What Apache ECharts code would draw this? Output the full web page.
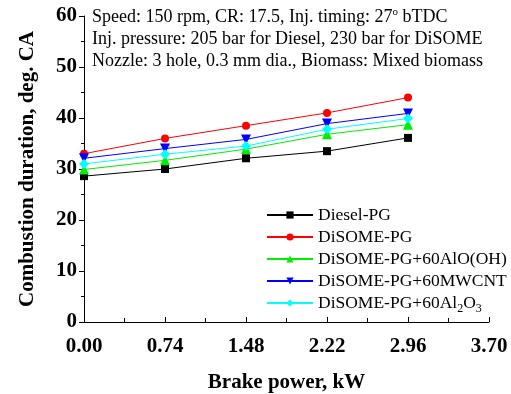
<!DOCTYPE html>
<html>
<head>
<meta charset="utf-8">
<script src="https://cdn.jsdelivr.net/npm/echarts@6/dist/echarts.min.js"></script>
<style>
  html, body { margin: 0; padding: 0; background: #fff; }
  #chart { width: 511px; height: 394px; }
</style>
</head>
<body>
<div id="chart"></div>
<script>
const brakePower = [0, 0.74, 1.48, 2.22, 2.96];
const dieselPG = [28.6, 30.0, 32.1, 33.5, 36.1];
const disomePG = [33.0, 36.0, 38.5, 41.0, 44.0];
const disomeAlOOH = [29.9, 31.7, 33.9, 36.8, 38.7];
const disomeMWCNT = [32.1, 34.0, 35.8, 38.9, 40.9];
const disomeAl2O3 = [31.0, 32.9, 34.5, 37.8, 39.9];
const seriesNames = ['Diesel-PG', 'DiSOME-PG', 'DiSOME-PG+60AlO(OH)', 'DiSOME-PG+60MWCNT', 'DiSOME-PG+60Al2O3'];

const font = '"Liberation Serif", "Times New Roman", serif';

const pairs = (ys) => brakePower.map((x, i) => [x, ys[i]]);

const makeSeries = (name, data, color, symbol, size, rotate) => ({
  name: name,
  type: 'line',
  data: pairs(data),
  symbol: symbol,
  symbolSize: size,
  symbolRotate: rotate || 0,
  lineStyle: { color: color, width: 1 },
  itemStyle: { color: color },
  animation: false
});

const getOption = () => {
  return {
    backgroundColor: '#fff',
    grid: { left: 84, right: 22, top: 16, bottom: 72, outerBoundsMode: 'none', containLabel: false },
    legend: {
      orient: 'vertical',
      left: 261,
      top: 201,
      itemWidth: 46,
      itemHeight: 9,
      itemGap: 4,
      data: seriesNames,
      textStyle: {
        fontFamily: font, fontSize: 17.5, color: '#000',
        rich: {
          n: { fontFamily: font, fontSize: 17.5, color: '#000' },
          sub: { fontFamily: font, fontSize: 12, color: '#000', padding: [11, 0, 0, 0] }
        }
      },
      formatter: (name) => name === 'DiSOME-PG+60Al2O3'
        ? '{n|DiSOME-PG+60Al}{sub|2}{n|O}{sub|3}'
        : name
    },
    graphic: [
      {
        type: 'text',
        left: 92,
        top: 7,
        style: {
          text: '{t|Speed: 150 rpm, CR: 17.5, Inj. timing: 27}{s|o}{t| bTDC}\n{t|Inj. pressure: 205 bar for Diesel, 230 bar for DiSOME}\n{t|Nozzle: 3 hole, 0.3 mm dia., Biomass: Mixed biomass}',
          rich: {
            t: { fontFamily: font, fontSize: 18, color: '#000', lineHeight: 22 },
            s: { fontFamily: font, fontSize: 11, color: '#000', padding: [0, 0, 9, 0], lineHeight: 22 }
          }
        }
      }
    ],
    xAxis: {
      type: 'value',
      min: 0,
      max: 3.7,
      interval: 0.74,
      name: 'Brake power, kW',
      nameLocation: 'middle',
      nameGap: 50,
      nameTextStyle: { fontFamily: font, fontSize: 21, fontWeight: 'bold', color: '#000' },
      axisLine: { lineStyle: { color: '#000', width: 1 } },
      axisTick: { inside: true, length: 5, lineStyle: { color: '#000' } },
      minorTick: { show: true, splitNumber: 2, length: 4, lineStyle: { color: '#000' } },
      splitLine: { show: false },
      axisLabel: {
        fontFamily: font, fontSize: 21, fontWeight: 'bold', color: '#000', margin: 14,
        formatter: (v) => v.toFixed(2)
      }
    },
    yAxis: {
      type: 'value',
      min: 0,
      max: 60,
      interval: 10,
      name: 'Combustion duration, deg. CA',
      nameLocation: 'middle',
      nameGap: 46,
      nameTextStyle: { fontFamily: font, fontSize: 21, fontWeight: 'bold', color: '#000' },
      axisLine: { show: true, lineStyle: { color: '#000', width: 1 } },
      axisTick: { show: true, inside: false, length: 5, lineStyle: { color: '#000' } },
      minorTick: { show: true, splitNumber: 2, length: 3, lineStyle: { color: '#000' } },
      splitLine: { show: false },
      axisLabel: { fontFamily: font, fontSize: 21, fontWeight: 'bold', color: '#000', margin: 7 }
    },
    series: [
      makeSeries(seriesNames[0], dieselPG, '#000000', 'rect', 8),
      makeSeries(seriesNames[1], disomePG, '#ff0000', 'circle', 8),
      makeSeries(seriesNames[2], disomeAlOOH, '#00ee00', 'triangle', 10),
      makeSeries(seriesNames[3], disomeMWCNT, '#0000ff', 'triangle', 10, 180),
      makeSeries(seriesNames[4], disomeAl2O3, '#00ffff', 'diamond', 10)
    ]
  };
};

const chart = echarts.init(document.getElementById('chart'));
chart.setOption(getOption());
</script>
</body>
</html>
